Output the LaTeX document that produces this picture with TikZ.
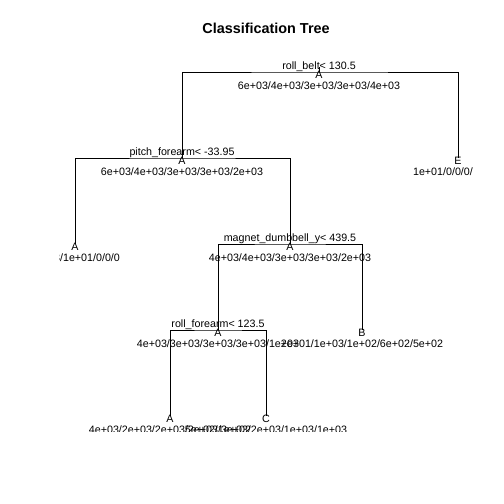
\documentclass[tikz,border=0pt]{standalone}
\usepackage{fontspec}
\setmainfont{Liberation Sans}
\tikzset{
  treetext/.style={
    anchor=base,
    inner sep=0pt,
    font=\fontsize{10.7}{12}\selectfont
  },
  splitlab/.style={treetext, yshift=3pt},
  classlab/.style={treetext, yshift=-6.5pt},
  countlab/.style={treetext, yshift=-17pt},
  branch/.style={draw=black, line width=0.9pt}
}

\begin{document}
\begin{tikzpicture}[x=1pt,y=-1pt]
\useasboundingbox (0,0) rectangle (504,504);

\node[anchor=base, inner sep=0pt, font=\fontsize{14.4}{16}\selectfont\bfseries]
  (title) at (266,33) {Classification Tree};

% split points and leaves
\coordinate (stem) at (319,67);
\coordinate (n1) at (319,72);
\coordinate (n2) at (182,158);
\coordinate (n3) at (458,158);
\coordinate (n4) at (75,244);
\coordinate (n5) at (290,244);
\coordinate (n6) at (218,330);
\coordinate (n7) at (362,330);
\coordinate (n8) at (170,416);
\coordinate (n9) at (266,416);

\begin{scope}
\clip (59.5,59) rectangle (472,431);

\draw[branch] (n1) -- (stem);
\draw[branch] (n2) |- (n1) -| (n3);
\draw[branch] (n4) |- (n2) -| (n5);
\draw[branch] (n6) |- (n5) -| (n7);
\draw[branch] (n8) |- (n6) -| (n9);

\node[splitlab] (lab1) at (n1) {roll\_belt< 130.5};
\node[classlab] (cls1) at (n1) {A};
\node[countlab] (cnt1) at (n1) {6e+03/4e+03/3e+03/3e+03/4e+03};

\node[splitlab] (lab2) at (n2) {pitch\_forearm< -33.95};
\node[classlab] (cls2) at (n2) {A};
\node[countlab] (cnt2) at (n2) {6e+03/4e+03/3e+03/3e+03/2e+03};

\node[classlab] (cls3) at (n3) {E};
\node[countlab] (cnt3) at (n3) {1e+01/0/0/0/5e+03};

\node[classlab] (cls4) at (n4) {A};
\node[countlab] (cnt4) at (n4) {5e+03/1e+01/0/0/0};

\node[splitlab] (lab5) at (n5) {magnet\_dumbbell\_y< 439.5};
\node[classlab] (cls5) at (n5) {A};
\node[countlab] (cnt5) at (n5) {4e+03/4e+03/3e+03/3e+03/2e+03};

\node[splitlab] (lab6) at (n6) {roll\_forearm< 123.5};
\node[classlab] (cls6) at (n6) {A};
\node[countlab] (cnt6) at (n6) {4e+03/3e+03/3e+03/3e+03/1e+03};

\node[classlab] (cls7) at (n7) {B};
\node[countlab] (cnt7) at (n7) {2e+01/1e+03/1e+02/6e+02/5e+02};

\node[classlab] (cls8) at (n8) {A};
\node[countlab] (cnt8) at (n8) {4e+03/2e+03/2e+03/2e+03/3e+02};

\node[classlab] (cls9) at (n9) {C};
\node[countlab] (cnt9) at (n9) {5e+02/1e+03/2e+03/1e+03/1e+03};
\end{scope}
\end{tikzpicture}
\end{document}
